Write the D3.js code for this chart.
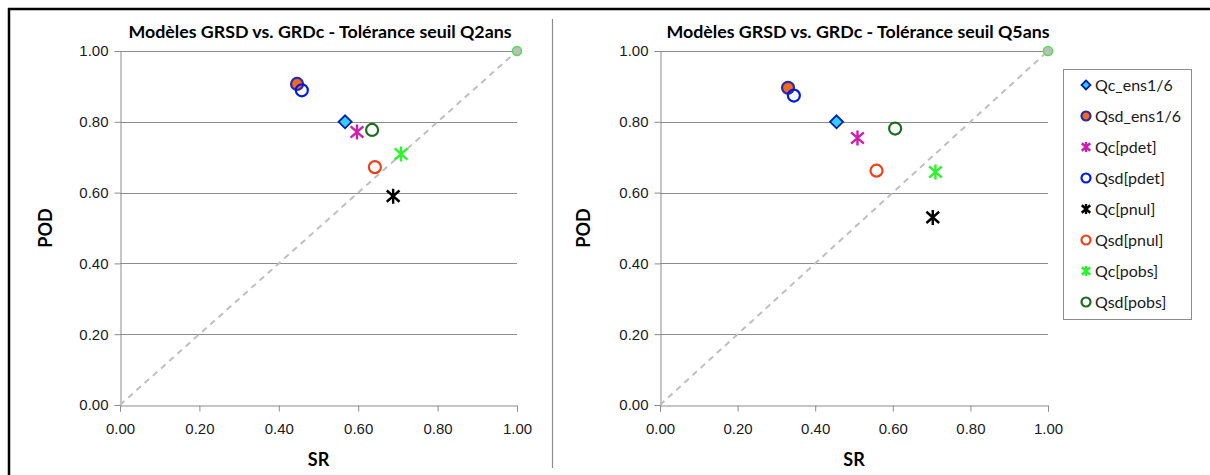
<!DOCTYPE html>
<html>
<head>
<meta charset="utf-8">
<script src="https://cdn.jsdelivr.net/npm/d3@7"></script>
<style>
  body { margin: 0; background: #fff; }
  svg { display: block; font-family: Lato, "Open Sans", sans-serif; }
</style>
</head>
<body>
<svg id="chart" width="1210" height="475"></svg>
<script>
// series names (legend order = draw order)
const series = ['Qc_ens1/6', 'Qsd_ens1/6', 'Qc[pdet]', 'Qsd[pdet]', 'Qc[pnul]', 'Qsd[pnul]', 'Qc[pobs]', 'Qsd[pobs]'];

// Q2ans panel
const srQ2  = [0.567, 0.446, 0.597, 0.458, 0.688, 0.642, 0.708, 0.635];
const podQ2 = [0.800, 0.907, 0.771, 0.889, 0.590, 0.672, 0.709, 0.777];

// Q5ans panel
const srQ5  = [0.455, 0.330, 0.509, 0.345, 0.703, 0.558, 0.710, 0.606];
const podQ5 = [0.800, 0.896, 0.754, 0.874, 0.530, 0.662, 0.658, 0.781];

const tickValues = [0, 0.2, 0.4, 0.6, 0.8, 1.0];
const titles = ['Modèles GRSD vs. GRDc - Tolérance seuil Q2ans', 'Modèles GRSD vs. GRDc - Tolérance seuil Q5ans'];

// marker look per series
const markerStyle = [
  { shape: 'diamond', fill: '#33CCFF', stroke: '#00209F' },
  { shape: 'circle', fill: '#F26A1B', stroke: '#2A2AA8' },
  { shape: 'star', fill: 'none', stroke: '#CC1FAE' },
  { shape: 'circle', fill: 'none', stroke: '#0018F0' },
  { shape: 'star', fill: 'none', stroke: '#000000' },
  { shape: 'circle', fill: 'none', stroke: '#EE4118' },
  { shape: 'star', fill: 'none', stroke: '#2AF52A' },
  { shape: 'circle', fill: 'none', stroke: '#1E6B1E' }
];

const svg = d3.select('#chart');

// outer frame (top + left)
svg.append('line').attr('x1', 8).attr('x2', 1210).attr('y1', 9).attr('y2', 9)
  .attr('stroke', '#000').attr('stroke-width', 2.5);
svg.append('line').attr('x1', 9).attr('x2', 9).attr('y1', 8).attr('y2', 475)
  .attr('stroke', '#000').attr('stroke-width', 2.5);
// separator between the two charts
svg.append('line').attr('x1', 552.5).attr('x2', 552.5).attr('y1', 19).attr('y2', 468)
  .attr('stroke', '#8c8c8c').attr('stroke-width', 1.2);

function drawMarker(g, st, size) {
  const s = size;
  if (st.shape === 'diamond') {
    g.append('path')
      .attr('d', `M0,${-s}L${s},0L0,${s}L${-s},0Z`)
      .attr('fill', st.fill).attr('stroke', st.stroke).attr('stroke-width', 1.8);
  } else if (st.shape === 'circle') {
    g.append('circle').attr('r', s - 0.5)
      .attr('fill', st.fill).attr('stroke', st.stroke).attr('stroke-width', 2.2);
  } else {
    const a = s * 0.85, b = s * 0.75;
    g.append('path')
      .attr('d', `M0,${-s}V${s}M${-a},${-b}L${a},${b}M${-a},${b}L${a},${-b}`)
      .attr('fill', 'none').attr('stroke', st.stroke).attr('stroke-width', 2.4);
  }
}

function panel(opts) {
  const x = d3.scaleLinear().domain([0, 1]).range([opts.x0, opts.x1]);
  const y = d3.scaleLinear().domain([0, 1]).range([405, 51]);
  const g = svg.append('g');

  // gridlines
  g.append('g').selectAll('line')
    .data(tickValues.filter(d => d > 0))
    .join('line')
    .attr('x1', x(0)).attr('x2', x(1))
    .attr('y1', d => Math.round(y(d)) + 0.5).attr('y2', d => Math.round(y(d)) + 0.5)
    .attr('stroke', '#8c8c8c').attr('stroke-width', 1);

  // axes
  const yAxis = g.append('g')
    .attr('transform', `translate(${Math.round(x(0)) + 0.5},0)`)
    .call(d3.axisLeft(y).tickValues(tickValues).tickFormat(d3.format('.2f')).tickSizeOuter(0).tickSize(6).tickPadding(6));
  const xAxis = g.append('g')
    .attr('transform', `translate(0,${Math.round(y(0)) + 0.5})`)
    .call(d3.axisBottom(x).tickValues(tickValues).tickFormat(d3.format('.2f')).tickSizeOuter(0).tickSize(6).tickPadding(12));
  [yAxis, xAxis].forEach(ax => {
    ax.select('.domain').attr('stroke', '#8c8c8c');
    ax.selectAll('.tick line').attr('stroke', '#8c8c8c');
    ax.selectAll('.tick text').attr('fill', '#1a1a1a').attr('font-size', 15);
  });

  // diagonal reference line
  g.append('line')
    .attr('x1', x(0)).attr('y1', y(0)).attr('x2', x(1)).attr('y2', y(1))
    .attr('stroke', '#bfbfbf').attr('stroke-width', 2).attr('stroke-dasharray', '6,5');
  g.append('circle')
    .attr('cx', x(1)).attr('cy', y(1)).attr('r', 4.5)
    .attr('fill', '#bdbdbd').attr('stroke', '#4ee04e').attr('stroke-width', 1.5);

  // points
  series.forEach((name, i) => {
    const m = g.append('g').attr('transform', `translate(${x(opts.sr[i])},${y(opts.pod[i])})`);
    drawMarker(m, markerStyle[i], markerStyle[i].shape === 'star' ? 7.5 : 6.5);
  });

  // titles
  g.append('text')
    .attr('x', opts.titleX).attr('y', 38)
    .attr('text-anchor', 'middle').attr('font-weight', 'bold').attr('font-size', 17.8)
    .attr('fill', '#000').text(opts.title);
  g.append('text')
    .attr('transform', `translate(${opts.podX},228) rotate(-90)`)
    .attr('text-anchor', 'middle').attr('font-weight', 'bold').attr('font-size', 18)
    .attr('fill', '#000').text('POD');
  g.append('text')
    .attr('x', (x(0) + x(1)) / 2).attr('y', 466)
    .attr('text-anchor', 'middle').attr('font-weight', 'bold').attr('font-size', 18)
    .attr('fill', '#000').text('SR');
}

panel({ x0: 120, x1: 517, sr: srQ2, pod: podQ2, title: titles[0], titleX: 320, podX: 52 });
panel({ x0: 660, x1: 1048, sr: srQ5, pod: podQ5, title: titles[1], titleX: 858, podX: 590 });

// legend
const legend = svg.append('g');
legend.append('rect')
  .attr('x', 1063.5).attr('y', 69.5).attr('width', 128).attr('height', 250)
  .attr('fill', '#fff').attr('stroke', '#8c8c8c');
series.forEach((name, i) => {
  const row = legend.append('g').attr('transform', `translate(1086,${85 + i * 31})`);
  drawMarker(row, markerStyle[i], markerStyle[i].shape === 'diamond' ? 4.5 : 5);
  row.append('text')
    .attr('x', 9).attr('y', 5.5)
    .attr('font-size', 16).attr('fill', '#1a1a1a')
    .text(name);
});
</script>
</body>
</html>
